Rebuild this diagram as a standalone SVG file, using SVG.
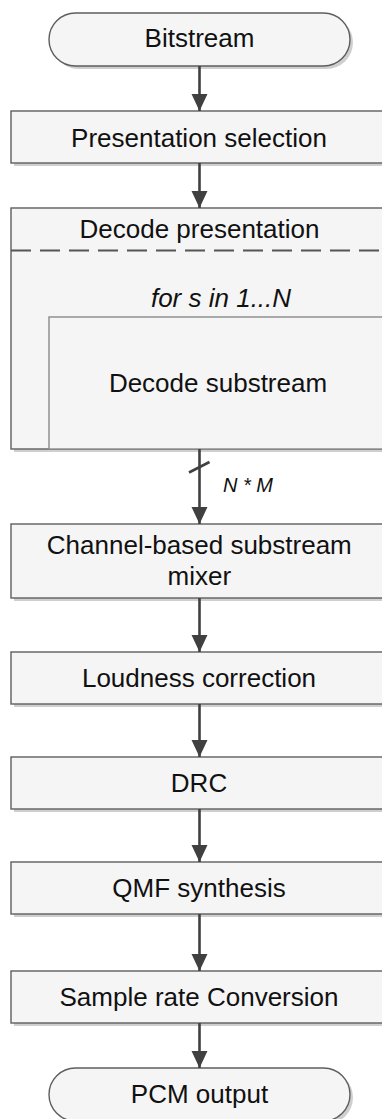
<svg xmlns="http://www.w3.org/2000/svg" width="382" height="1119" viewBox="0 0 382 1119">
  <style>
    .box { fill: #f5f5f5; stroke: #5e5e5e; stroke-width: 1.4; }
    .inner { fill: #f5f5f5; stroke: #8a8a8a; stroke-width: 1.4; }
    .shadow { fill: #cfcfcf; }
    .lbl { font-family: "Liberation Sans", Arial, sans-serif; font-size: 26px; fill: #111; text-anchor: middle; }
    .it { font-style: italic; }
    .small { font-size: 20px; text-anchor: start; }
    .edge { stroke: #404040; stroke-width: 2.6; fill: none; }
    .dash { stroke: #555; stroke-width: 2; stroke-dasharray: 20 9; fill: none; }
  </style>
  <defs>
    <marker id="arrow" markerUnits="userSpaceOnUse" markerWidth="18" markerHeight="18" refX="17" refY="8" orient="auto">
      <path d="M0,0 L17,8 L0,16 Z" fill="#404040"/>
    </marker>
  </defs>
  <rect width="382" height="1119" fill="#ffffff"/>

  <g id="bitstream">
    <rect class="shadow" x="52" y="16" width="301" height="53" rx="26.5"/>
    <rect class="box" x="49" y="13" width="301" height="53" rx="26.5"/>
    <text class="lbl" x="199.5" y="47.3">Bitstream</text>
  </g>

  <g id="presentation-selection">
    <rect class="shadow" x="14" y="114" width="378" height="52"/>
    <rect class="box" x="11" y="111" width="378" height="52"/>
    <text class="lbl" x="199" y="146.7">Presentation selection</text>
  </g>

  <g id="decode-presentation">
    <rect class="shadow" x="14" y="211" width="378" height="241"/>
    <rect class="box" x="11" y="208" width="378" height="241"/>
    <text class="lbl" x="199.5" y="238.3">Decode presentation</text>
    <line class="dash" x1="11" y1="250.5" x2="389" y2="250.5"/>
    <text class="lbl it" x="221" y="306.7">for s in 1...N</text>
    <g id="decode-substream">
      <rect class="inner" x="49" y="317" width="340" height="132"/>
      <text class="lbl" x="218" y="391.7">Decode substream</text>
    </g>
  </g>

  <g id="substream-mixer">
    <rect class="shadow" x="14" y="527" width="378" height="74"/>
    <rect class="box" x="11" y="524" width="378" height="74"/>
    <text class="lbl" x="199.3" y="554">Channel-based substream</text>
    <text class="lbl" x="199.3" y="585">mixer</text>
  </g>

  <g id="loudness-correction">
    <rect class="shadow" x="14" y="655" width="378" height="52"/>
    <rect class="box" x="11" y="652" width="378" height="52"/>
    <text class="lbl" x="199" y="687">Loudness correction</text>
  </g>

  <g id="drc">
    <rect class="shadow" x="14" y="760" width="378" height="52"/>
    <rect class="box" x="11" y="757" width="378" height="52"/>
    <text class="lbl" x="199" y="792">DRC</text>
  </g>

  <g id="qmf-synthesis">
    <rect class="shadow" x="14" y="865" width="378" height="52"/>
    <rect class="box" x="11" y="862" width="378" height="52"/>
    <text class="lbl" x="199" y="897">QMF synthesis</text>
  </g>

  <g id="sample-rate-conversion">
    <rect class="shadow" x="14" y="974" width="378" height="52"/>
    <rect class="box" x="11" y="971" width="378" height="52"/>
    <text class="lbl" x="199" y="1006">Sample rate Conversion</text>
  </g>

  <g id="pcm-output">
    <rect class="shadow" x="52" y="1071" width="301" height="53" rx="26.5"/>
    <rect class="box" x="49" y="1068" width="301" height="53" rx="26.5"/>
    <text class="lbl" x="199.5" y="1102.7">PCM output</text>
  </g>

  <g id="connectors">
    <line class="edge" x1="199.5" y1="66" x2="199.5" y2="111" marker-end="url(#arrow)"/>
    <line class="edge" x1="199.5" y1="163" x2="199.5" y2="208" marker-end="url(#arrow)"/>
    <line class="edge" x1="199.5" y1="449" x2="199.5" y2="524" marker-end="url(#arrow)"/>
    <line class="edge" x1="189" y1="472.5" x2="209.5" y2="462" stroke-width="2.2"/>
    <text class="lbl it small" x="223" y="491.7">N * M</text>
    <line class="edge" x1="199.5" y1="598" x2="199.5" y2="652" marker-end="url(#arrow)"/>
    <line class="edge" x1="199.5" y1="704" x2="199.5" y2="757" marker-end="url(#arrow)"/>
    <line class="edge" x1="199.5" y1="809" x2="199.5" y2="862" marker-end="url(#arrow)"/>
    <line class="edge" x1="199.5" y1="914" x2="199.5" y2="971" marker-end="url(#arrow)"/>
    <line class="edge" x1="199.5" y1="1023" x2="199.5" y2="1068" marker-end="url(#arrow)"/>
  </g>
</svg>
